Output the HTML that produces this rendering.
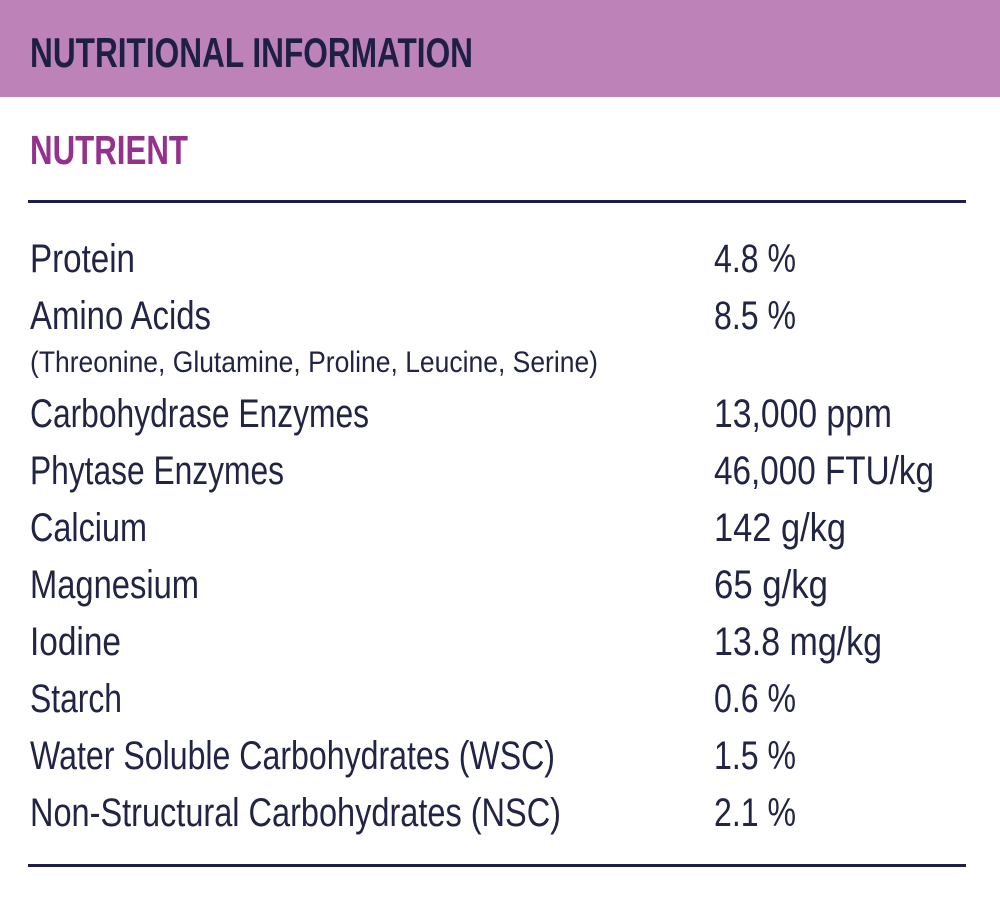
<!DOCTYPE html>
<html><head><meta charset="utf-8"><style>
html,body{margin:0;padding:0;background:#fff;}
svg{display:block}
text{font-family:"Liberation Sans",sans-serif;fill:#222446;}
</style></head><body>
<svg width="1000" height="900" viewBox="0 0 1000 900" xmlns="http://www.w3.org/2000/svg">
<rect x="0" y="0" width="1000" height="97" fill="#bd82b8"/>
<text x="30" y="67" font-size="42" font-weight="bold" textLength="443" lengthAdjust="spacingAndGlyphs" style="fill:#1e1f45">NUTRITIONAL INFORMATION</text>
<text x="30" y="164" font-size="41" font-weight="bold" textLength="158" lengthAdjust="spacingAndGlyphs" style="fill:#93318c">NUTRIENT</text>
<rect x="28" y="200" width="938" height="3" fill="#1e1f45"/>
<g font-size="40">
<text x="30" y="272" textLength="105" lengthAdjust="spacingAndGlyphs">Protein</text>
<text x="30" y="329" textLength="181" lengthAdjust="spacingAndGlyphs">Amino Acids</text>
<text x="30" y="372" font-size="30" textLength="568" lengthAdjust="spacingAndGlyphs">(Threonine, Glutamine, Proline, Leucine, Serine)</text>
<text x="30" y="427" textLength="339" lengthAdjust="spacingAndGlyphs">Carbohydrase Enzymes</text>
<text x="30" y="484" textLength="254" lengthAdjust="spacingAndGlyphs">Phytase Enzymes</text>
<text x="30" y="541" textLength="117" lengthAdjust="spacingAndGlyphs">Calcium</text>
<text x="30" y="598" textLength="169" lengthAdjust="spacingAndGlyphs">Magnesium</text>
<text x="30" y="655" textLength="91" lengthAdjust="spacingAndGlyphs">Iodine</text>
<text x="30" y="712" textLength="92" lengthAdjust="spacingAndGlyphs">Starch</text>
<text x="30" y="769" textLength="525" lengthAdjust="spacingAndGlyphs">Water Soluble Carbohydrates (WSC)</text>
<text x="30" y="826" textLength="531" lengthAdjust="spacingAndGlyphs">Non-Structural Carbohydrates (NSC)</text>
<text x="714" y="272" textLength="82" lengthAdjust="spacingAndGlyphs">4.8 %</text>
<text x="714" y="329" textLength="82" lengthAdjust="spacingAndGlyphs">8.5 %</text>
<text x="714" y="427" textLength="178" lengthAdjust="spacingAndGlyphs">13,000 ppm</text>
<text x="714" y="484" textLength="220" lengthAdjust="spacingAndGlyphs">46,000 FTU/kg</text>
<text x="714" y="541" textLength="132" lengthAdjust="spacingAndGlyphs">142 g/kg</text>
<text x="714" y="598" textLength="114" lengthAdjust="spacingAndGlyphs">65 g/kg</text>
<text x="714" y="655" textLength="168" lengthAdjust="spacingAndGlyphs">13.8 mg/kg</text>
<text x="714" y="712" textLength="82" lengthAdjust="spacingAndGlyphs">0.6 %</text>
<text x="714" y="769" textLength="82" lengthAdjust="spacingAndGlyphs">1.5 %</text>
<text x="714" y="826" textLength="82" lengthAdjust="spacingAndGlyphs">2.1 %</text>
</g>
<rect x="28" y="864" width="938" height="3" fill="#1e1f45"/>
</svg>
</body></html>
